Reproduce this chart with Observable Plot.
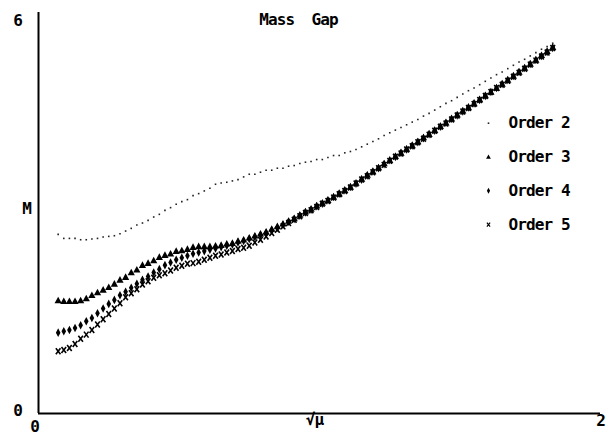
<!DOCTYPE html>
<html><head><meta charset="utf-8">
<script src="https://cdn.jsdelivr.net/npm/d3@7"></script>
<script src="https://cdn.jsdelivr.net/npm/@observablehq/plot@0.6"></script>
<style>html,body{margin:0;padding:0;background:#fff}#chart svg{display:block}#chart text{letter-spacing:-0.9px}</style>
</head><body><div id="chart"></div>
<script>
const xs = [0.07,0.09,0.11,0.13,0.15,0.17,0.19,0.21,0.23,0.25,
0.27,0.29,0.31,0.33,0.35,0.37,0.39,0.41,0.43,0.45,
0.47,0.49,0.51,0.53,0.55,0.57,0.59,0.61,0.63,0.65,
0.67,0.69,0.71,0.73,0.75,0.77,0.79,0.81,0.83,0.85,
0.87,0.89,0.91,0.93,0.95,0.97,0.99,1.01,1.03,1.05,
1.07,1.09,1.11,1.13,1.15,1.17,1.19,1.21,1.23,1.25,
1.27,1.29,1.31,1.33,1.35,1.37,1.39,1.41,1.43,1.45,
1.47,1.49,1.51,1.53,1.55,1.57,1.59,1.61,1.63,1.65,
1.67,1.69,1.71,1.73,1.75,1.77,1.79,1.81,1.83];

const order2 = [2.68,2.62,2.62,2.62,2.60,2.60,2.61,2.62,2.64,2.65,
2.66,2.69,2.73,2.77,2.82,2.85,2.89,2.94,2.98,3.04,
3.08,3.13,3.17,3.20,3.26,3.29,3.33,3.37,3.43,3.45,
3.46,3.48,3.50,3.54,3.58,3.58,3.61,3.64,3.64,3.67,
3.67,3.70,3.71,3.74,3.76,3.77,3.80,3.80,3.83,3.86,
3.86,3.90,3.92,3.95,3.99,4.03,4.07,4.11,4.16,4.20,
4.24,4.28,4.32,4.36,4.40,4.45,4.49,4.54,4.59,4.64,
4.68,4.73,4.78,4.83,4.87,4.92,4.97,5.02,5.07,5.11,
5.16,5.21,5.26,5.30,5.35,5.40,5.45,5.49,5.54];

const order3 = [1.69,1.68,1.68,1.68,1.69,1.72,1.77,1.81,1.85,1.89,
1.94,2.00,2.04,2.11,2.15,2.22,2.25,2.29,2.34,2.37,
2.39,2.43,2.44,2.46,2.49,2.50,2.50,2.50,2.51,2.52,
2.54,2.55,2.58,2.60,2.63,2.66,2.69,2.72,2.76,2.80,
2.84,2.88,2.92,2.97,3.02,3.06,3.11,3.15,3.19,3.24,
3.29,3.34,3.39,3.45,3.51,3.57,3.62,3.68,3.74,3.79,
3.85,3.90,3.96,4.01,4.07,4.13,4.18,4.24,4.30,4.35,
4.41,4.47,4.53,4.58,4.64,4.70,4.76,4.81,4.87,4.93,
4.99,5.05,5.11,5.17,5.23,5.29,5.36,5.42,5.48];

const order4 = [1.21,1.23,1.25,1.28,1.32,1.38,1.43,1.50,1.57,1.64,
1.70,1.77,1.82,1.88,1.94,2.00,2.05,2.11,2.16,2.22,
2.26,2.30,2.33,2.36,2.39,2.41,2.43,2.45,2.47,2.49,
2.51,2.53,2.56,2.58,2.61,2.64,2.67,2.70,2.74,2.78,
2.82,2.87,2.91,2.96,3.01,3.05,3.10,3.14,3.19,3.24,
3.29,3.34,3.39,3.44,3.50,3.56,3.62,3.67,3.73,3.79,
3.84,3.90,3.95,4.01,4.06,4.12,4.18,4.23,4.29,4.35,
4.41,4.46,4.52,4.58,4.64,4.69,4.75,4.81,4.87,4.93,
4.99,5.05,5.11,5.17,5.23,5.29,5.35,5.41,5.47];

const order5 = [0.93,0.95,0.98,1.04,1.12,1.18,1.25,1.33,1.41,1.49,
1.57,1.65,1.74,1.80,1.86,1.93,1.98,2.03,2.07,2.10,
2.14,2.18,2.21,2.24,2.25,2.27,2.30,2.33,2.36,2.38,
2.41,2.43,2.46,2.48,2.51,2.56,2.60,2.65,2.70,2.75,
2.80,2.85,2.90,2.95,3.00,3.04,3.09,3.14,3.18,3.23,
3.28,3.33,3.38,3.44,3.50,3.55,3.61,3.67,3.72,3.78,
3.84,3.89,3.95,4.00,4.06,4.11,4.17,4.23,4.29,4.34,
4.40,4.46,4.52,4.57,4.63,4.69,4.75,4.81,4.87,4.92,
4.98,5.04,5.10,5.16,5.22,5.28,5.34,5.40,5.47];

const seriesNames = ["Order 2", "Order 3", "Order 4", "Order 5"];
const yTickValues = [0, 6];
const yTickLabels = ["0", "6"];
const xTickValues = [0, 1, 2];
const xTickLabels = ["0", "\u221A\u03BC", "2"];
const titleText = "Mass  Gap";
const yAxisLabel = "M";

// symbols
const tallDiamond = {draw(ctx) { ctx.moveTo(0,-4.3); ctx.lineTo(2.3,0); ctx.lineTo(0,4.3); ctx.lineTo(-2.3,0); ctx.closePath(); }};
const smallTriangle = {draw(ctx) { ctx.moveTo(0,-3.8); ctx.lineTo(3.6,2.8); ctx.lineTo(-3.6,2.8); ctx.closePath(); }};
const crossX = {draw(ctx) { ctx.moveTo(-2.3,-3); ctx.lineTo(2.3,3); ctx.moveTo(2.3,-3); ctx.lineTo(-2.3,3); }};
const tinyDot = {draw(ctx) { ctx.rect(-0.8,-0.8,1.6,1.6); }};

const styles = [
  {symbol: tinyDot, fill: "#222", stroke: "none", strokeWidth: 0},
  {symbol: smallTriangle, fill: "#000", stroke: "none", strokeWidth: 0},
  {symbol: tallDiamond, fill: "#000", stroke: "none", strokeWidth: 0},
  {symbol: crossX, fill: "none", stroke: "#000", strokeWidth: 1.6}
];
const legendStyles = [
  styles[0],
  {...styles[1], symbol: {draw(ctx) { ctx.moveTo(0,-2.6); ctx.lineTo(2.4,1.8); ctx.lineTo(-2.4,1.8); ctx.closePath(); }}},
  {...styles[2], symbol: {draw(ctx) { ctx.moveTo(0,-3); ctx.lineTo(1.6,0); ctx.lineTo(0,3); ctx.lineTo(-1.6,0); ctx.closePath(); }}},
  {...styles[3], strokeWidth: 1.2, symbol: {draw(ctx) { ctx.moveTo(-1.6,-2); ctx.lineTo(1.6,2); ctx.moveTo(1.6,-2); ctx.lineTo(-1.6,2); }}}
];
const seriesValues = [order2, order3, order4, order5];

const font = {fontFamily: "DejaVu Sans Mono", fontWeight: "bold", fontSize: 16, fill: "#000", lineAnchor: "middle"};

const marks = [];
marks.push(Plot.ruleX([0], {stroke: "#000", strokeWidth: 2}));
marks.push(Plot.ruleY([0], {stroke: "#000", strokeWidth: 2}));

for (let k = seriesValues.length - 1; k >= 0; k--) {
  const rows = xs.map((x, i) => ({x, y: seriesValues[k][i]}));
  marks.push(Plot.dot(rows, {x: "x", y: "y", ...styles[k]}));
}

// tick labels
marks.push(Plot.text([yTickValues[1]], {x: 0, y: d => d, text: () => yTickLabels[1], dx: -21, dy: 8.5, ...font}));
marks.push(Plot.text([yTickValues[0]], {x: 0, y: d => d, text: () => yTickLabels[0], dx: -21, dy: -3, ...font}));
marks.push(Plot.text([xTickValues[0]], {x: d => d, y: 0, text: () => xTickLabels[0], dx: -4, dy: 13, ...font}));
marks.push(Plot.text([xTickValues[1]], {x: d => d, y: 0, text: () => xTickLabels[1], dx: -5, dy: 6.5, ...font}));
marks.push(Plot.text([xTickValues[2]], {x: d => d, y: 0, text: () => xTickLabels[2], dx: 0, dy: 7.5, ...font}));

// title and y label
marks.push(Plot.text([titleText], {frameAnchor: "top", text: d => d, dx: -21, dy: 7.5, textAnchor: "middle", ...font}));
marks.push(Plot.text([yAxisLabel], {frameAnchor: "left", text: d => d, dx: -12, dy: -4.5, textAnchor: "middle", ...font}));

// legend
seriesNames.forEach((name, i) => {
  const dy = 110.7 + 33.8 * i;
  marks.push(Plot.dot([name], {frameAnchor: "top-left", dx: 450, dy, ...legendStyles[i]}));
  marks.push(Plot.text([name], {frameAnchor: "top-left", text: d => d, dx: 470, dy, textAnchor: "start", ...font}));
});

const chart = Plot.plot({
  width: 608,
  height: 436,
  marginLeft: 38,
  marginRight: 8,
  marginTop: 12,
  marginBottom: 23,
  x: {domain: [0, 2], axis: null},
  y: {domain: [0, 6], axis: null},
  style: {background: "#fff", color: "#000", fontFamily: "DejaVu Sans Mono"},
  marks
});
document.getElementById("chart").appendChild(chart);
</script>
</body></html>
